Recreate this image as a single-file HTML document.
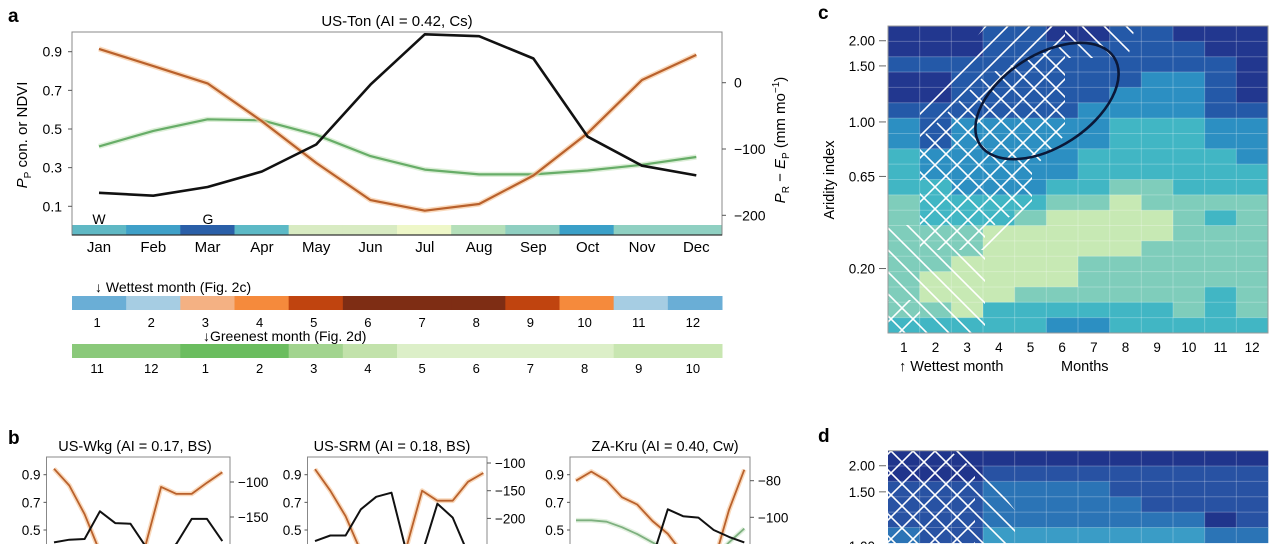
<!DOCTYPE html>
<html><head><meta charset="utf-8"><style>
html,body{margin:0;padding:0;background:#fff;width:1279px;height:544px;overflow:hidden;}
svg{display:block;font-family:"Liberation Sans",sans-serif;}
</style></head><body>
<svg id="fig" width="1279" height="544" viewBox="0 0 1279 544" xmlns="http://www.w3.org/2000/svg" overflow="hidden">
<defs>
<pattern id="hatchF" width="22" height="22" patternUnits="userSpaceOnUse"><line x1="0" y1="22" x2="22" y2="0" stroke="#fff" stroke-width="1.6"/><line x1="-11" y1="11" x2="11" y2="-11" stroke="#fff" stroke-width="1.6"/><line x1="11" y1="33" x2="33" y2="11" stroke="#fff" stroke-width="1.6"/></pattern>
<pattern id="hatchB" width="22" height="22" patternUnits="userSpaceOnUse"><line x1="0" y1="0" x2="22" y2="22" stroke="#fff" stroke-width="1.6"/><line x1="-11" y1="11" x2="11" y2="33" stroke="#fff" stroke-width="1.6"/><line x1="11" y1="-11" x2="33" y2="11" stroke="#fff" stroke-width="1.6"/></pattern>
</defs>
<g id="root"></g>
</svg>
<script>
// ---------- data ----------
const months = ['Jan','Feb','Mar','Apr','May','Jun','Jul','Aug','Sep','Oct','Nov','Dec'];
const aBlack = [0.17,0.155,0.2,0.28,0.42,0.73,0.99,0.98,0.865,0.46,0.31,0.26];
const aGreen = [0.41,0.49,0.55,0.545,0.47,0.36,0.29,0.265,0.265,0.285,0.315,0.355];
const aOrange = [51,25,-1,-58,-121,-177,-193,-183,-140,-76,4,42];
const aLeftTicks = [0.1,0.3,0.5,0.7,0.9];
const aRightTicks = [0,-100,-200];
const aStrip = ['#5fb8c4','#3fa0c8','#2a5fa8','#5cb9c6','#d8ebc2','#d8ebc2','#eef7c8','#b4dfb9','#8fcfc1','#3ba0c8','#8fd0c2','#8fd0c2'];
const wetLabels = ['1','2','3','4','5','6','7','8','9','10','11','12'];
const wetColors = ['#6aaed6','#a6cde3','#f4b183','#f58a3c','#c0440f','#7e2d14','#7e2d14','#7e2d14','#c0440f','#f58a3c','#a6cde3','#6aaed6'];
const greenLabels = ['11','12','1','2','3','4','5','6','7','8','9','10'];
const greenColors = ['#8ac97a','#8ac97a','#6bbd5f','#6bbd5f','#a2d48f','#c2e2ab','#dcefc8','#dcefc8','#dcefc8','#dcefc8','#c8e6b1','#c8e6b1'];

const b1Black = [0.41,0.43,0.435,0.635,0.55,0.545,0.38,0.3,0.4,0.58,0.58,0.42];
const b1Orange = [-81,-105,-146,-200,-240,-230,-189,-107,-117,-117,-101,-86];
const b2Black = [0.42,0.46,0.46,0.65,0.74,0.77,0.33,0.33,0.69,0.59,0.33,0.3];
const b2Orange = [-111,-150,-196,-260,-280,-270,-250,-150,-168,-168,-134,-118];
const b3Black = [0.2,0.2,0.22,0.25,0.28,0.3,0.65,0.6,0.59,0.5,0.45,0.41];
const b3Orange = [-80,-75,-80,-89,-93,-102,-109,-120,-125,-125,-96,-74];
const b3Green = [0.57,0.57,0.56,0.52,0.47,0.41,0.35,0.3,0.28,0.3,0.41,0.51];
const bLeftTicks = [0.5,0.7,0.9];
const b1RightTicks = [-100,-150];
const b2RightTicks = [-100,-150,-200];
const b3RightTicks = [-80,-100];

const heatPalette = ['#c7e9b4','#7fcdbb','#41b6c4','#2c8fc2','#2459a8','#22378f'];
const dPalette = ['#c7e9b4','#7fcdbb','#3a9cc6','#2b74b6','#2852a3','#20358c'];
const cGrid = [
[5,5,5,4,4,5,5,4,4,5,5,5],
[5,5,5,4,4,4,4,4,4,4,5,5],
[4,4,4,4,4,4,4,4,4,4,4,5],
[5,5,4,4,4,4,4,4,3,3,4,5],
[5,5,4,4,4,4,4,3,3,3,4,5],
[4,4,4,4,4,4,3,3,3,3,4,4],
[3,4,3,3,3,3,3,2,2,2,3,3],
[3,4,3,3,3,3,3,2,2,2,3,3],
[2,3,3,3,3,3,2,2,2,2,2,3],
[2,3,3,3,3,3,2,2,2,2,2,2],
[2,2,3,3,3,2,2,1,1,2,2,2],
[1,2,2,2,2,1,1,0,1,1,1,1],
[1,2,2,2,1,0,0,0,0,1,2,1],
[1,1,1,0,0,0,0,0,0,1,1,1],
[1,1,1,0,0,0,0,0,1,1,1,1],
[1,1,0,0,0,0,1,1,1,1,1,1],
[1,0,0,0,0,0,1,1,1,1,1,1],
[1,0,0,0,1,1,1,1,1,1,2,1],
[1,1,0,2,2,2,2,2,2,1,2,1],
[2,2,2,2,2,3,3,2,2,2,2,2]];
const cTickLabels = ['2.00','1.50','1.00','0.65','0.20'];
const cTickRows = [0.96,2.6,6.25,9.8,15.8];
const dGrid = [
[5,5,5,5,5,5,5,5,5,5,5,5],
[5,5,5,4,4,4,4,4,4,4,4,4],
[4,4,4,3,3,3,3,5,4,4,4,4],
[4,4,4,3,3,3,3,3,4,4,4,4],
[4,4,4,3,3,3,3,3,3,3,5,4],
[3,4,4,2,2,2,2,2,2,2,3,3]];
dGrid[2][7]=4;
const dTickLabels = ['2.00','1.50','1.00'];
const dTickRows = [0.98,2.68,6.2];

// ---------- helpers ----------
const NS='http://www.w3.org/2000/svg';
const root=document.getElementById('root');
function mk(tag,attrs,parent,text){const e=document.createElementNS(NS,tag);for(const k in attrs)e.setAttribute(k,attrs[k]);if(text!==undefined)e.textContent=text;(parent||root).appendChild(e);return e;}
function grp(name){const g=mk('g',{});return g;}
function lin(d0,d1,r0,r1){return v=>r0+(v-d0)*(r1-r0)/(d1-d0);}
function poly(vals,xs,ys,parent,color,w,glow,name){
  const pts=vals.map((v,i)=>xs(i).toFixed(1)+','+ys(v).toFixed(1)).join(' ');
  if(glow){const gl=mk('polyline',{points:pts,fill:'none',stroke:glow,'stroke-width':w+3,'stroke-linejoin':'round','stroke-opacity':0.7},parent);}
  const p=mk('polyline',{points:pts,fill:'none',stroke:color,'stroke-width':w,'stroke-linejoin':'round'},parent);
  
  
}

// ---------- panel a ----------
(function(){
  const g=grp('panel-a');
  const L=72,R=722,T=32,B=235;
  const mx=i=>99+i*54.3;
  const yl=lin(0.1,0.9,206.3,51.7);
  const yr=lin(0,-200,82.7,215.3);
  const lab=mk('text',{x:8,y:22,'font-size':19,'font-weight':'bold'},g,'a');
  const t=mk('text',{x:397,y:26,'font-size':15,'text-anchor':'middle'},g,'US-Ton (AI = 0.42, Cs)');
  const cw=(R-L)/12;
  aStrip.forEach((c,i)=>{const r=mk('rect',{x:L+i*cw,y:225,width:cw+0.5,height:10,fill:c},g);});
  const box=mk('rect',{x:L,y:T,width:R-L,height:B-T,fill:'none',stroke:'#888','stroke-width':1},g);
  mk('line',{x1:L,y1:B,x2:R,y2:B,stroke:'#333','stroke-width':1.2},g);
  aLeftTicks.forEach(v=>{const tx=mk('text',{x:62,y:yl(v)+5,'font-size':14,'text-anchor':'end'},g,v.toFixed(1));mk('line',{x1:L-4,y1:yl(v),x2:L,y2:yl(v),stroke:'#555'},g);});
  aRightTicks.forEach(v=>{const tx=mk('text',{x:734,y:yr(v)+5,'font-size':14},g,v===0?'0':'\u2212'+(-v));mk('line',{x1:R,y1:yr(v),x2:R+4,y2:yr(v),stroke:'#555'},g);});
  months.forEach((m,i)=>{const tx=mk('text',{x:mx(i),y:252,'font-size':15,'text-anchor':'middle'},g,m);});
  const w=mk('text',{x:99,y:224,'font-size':14,'text-anchor':'middle'},g,'W');
  const gg=mk('text',{x:208,y:224,'font-size':14,'text-anchor':'middle'},g,'G');
  poly(aGreen,mx,yl,g,'#67ad68',2.2,'#cfe8c8','ndvi-line');
  poly(aOrange,mx,yr,g,'#b9612c',2.2,'#f6c9a0','pr-ep-line');
  poly(aBlack,mx,yl,g,'#111',2.6,null,'pp-line');
  const ylab=mk('text',{transform:'translate(27,135) rotate(-90)','font-size':15,'text-anchor':'middle'},g);
  
  ylab.innerHTML='<tspan font-style="italic">P</tspan><tspan font-size="10" dy="4">P</tspan><tspan dy="-4"> con. or NDVI</tspan>';
  const rlab=mk('text',{transform:'translate(785,140) rotate(-90)','font-size':15,'text-anchor':'middle'},g);
  
  rlab.innerHTML='<tspan font-style="italic">P</tspan><tspan font-size="10" dy="4">R</tspan><tspan dy="-4"> \u2212 </tspan><tspan font-style="italic">E</tspan><tspan font-size="10" dy="4">P</tspan><tspan dy="-4"> (mm mo</tspan><tspan font-size="10" dy="-6">\u22121</tspan><tspan dy="6">)</tspan>';
  const t1=mk('text',{x:95,y:292,'font-size':14},g,'\u2193 Wettest month (Fig. 2c)');
  wetColors.forEach((c,i)=>{const r=mk('rect',{x:L+i*cw,y:296,width:cw+0.5,height:14,fill:c},g);
    const tx=mk('text',{x:L+(i+0.5)*cw-2,y:327,'font-size':13,'text-anchor':'middle'},g,wetLabels[i]);});
  const t2=mk('text',{x:203,y:341,'font-size':14},g,'\u2193Greenest month (Fig. 2d)');
  greenColors.forEach((c,i)=>{const r=mk('rect',{x:L+i*cw,y:344,width:cw+0.5,height:14,fill:c},g);
    const tx=mk('text',{x:L+(i+0.5)*cw-2,y:373,'font-size':13,'text-anchor':'middle'},g,greenLabels[i]);});
})();

// ---------- panel b ----------
(function(){
  const g=grp('panel-b');
  const lab=mk('text',{x:8,y:444,'font-size':19,'font-weight':'bold'},g,'b');
  const yl=lin(0.9,0.5,474.7,530);
  const subs=[
    {L:46.5,R:230,title:'US-Wkg (AI = 0.17, BS)',cx:135,x0:54,black:b1Black,orange:b1Orange,green:null,rt:b1RightTicks,yr:lin(-100,-150,482,517)},
    {L:307.5,R:487,title:'US-SRM (AI = 0.18, BS)',cx:392,x0:315,black:b2Black,orange:b2Orange,green:null,rt:b2RightTicks,yr:lin(-100,-150,463,490.7)},
    {L:570,R:750,title:'ZA-Kru (AI = 0.40, Cw)',cx:665,x0:576,black:b3Black,orange:b3Orange,green:b3Green,rt:b3RightTicks,yr:lin(-80,-100,480.7,517.3)}];
  subs.forEach((s,k)=>{
    const sg=mk('g',{},g);
    const cp=mk('clipPath',{id:'bclip'+k},sg);mk('rect',{x:s.L,y:457,width:s.R-s.L,height:87},cp);
    const t=mk('text',{x:s.cx,y:451,'font-size':14.5,'text-anchor':'middle'},sg,s.title);
    mk('path',{d:`M${s.L},544V457H${s.R}V544`,fill:'none',stroke:'#888'},sg);
    bLeftTicks.forEach(v=>{const tx=mk('text',{x:s.L-6,y:yl(v)+5,'font-size':13.5,'text-anchor':'end'},sg,v.toFixed(1));mk('line',{x1:s.L-3,y1:yl(v),x2:s.L,y2:yl(v),stroke:'#555'},sg);});
    s.rt.forEach(v=>{const tx=mk('text',{x:s.R+8,y:s.yr(v)+5,'font-size':13.5},sg,'\u2212'+(-v));mk('line',{x1:s.R,y1:s.yr(v),x2:s.R+4,y2:s.yr(v),stroke:'#555'},sg);});
    const pg=mk('g',{'clip-path':`url(#bclip${k})`},sg);
    const xs=i=>s.x0+i*15.3;
    if(s.green)poly(s.green,xs,yl,pg,'#7db07f',1.8,'#d6ead2','ndvi-line');
    poly(s.orange,xs,s.yr,pg,'#b9612c',1.8,'#f6c9a0','pr-ep-line');
    poly(s.black,xs,yl,pg,'#111',2,null,'pp-line');
  });
})();

// ---------- heatmaps ----------
function heat(name,grid,pal,top,tickL,tickR,labelChar,labelY){
  const g=grp(name);
  const L=888,R=1268,cw=(R-L)/12,rh=15.35;
  const lab=mk('text',{x:818,y:labelY,'font-size':19,'font-weight':'bold'},g,labelChar);
  grid.forEach((row,r)=>row.forEach((v,c)=>{const e=mk('rect',{x:L+c*cw,y:top+r*rh,width:cw+0.3,height:rh+0.3,fill:pal[v]},g);}));
  for(let c=1;c<12;c++)mk('line',{x1:L+c*cw,y1:top,x2:L+c*cw,y2:top+grid.length*rh,stroke:'#fff','stroke-opacity':0.25},g);
  for(let r=1;r<grid.length;r++)mk('line',{x1:L,y1:top+r*rh,x2:R,y2:top+r*rh,stroke:'#fff','stroke-opacity':0.25},g);
  tickL.forEach((t,i)=>{const y=top+tickR[i]*rh;const tx=mk('text',{x:875,y:y+5,'font-size':13.5,'text-anchor':'end'},g,t);mk('line',{x1:879,y1:y,x2:886,y2:y,stroke:'#666'},g);});
  return {g,L,R,cw,rh};
}
(function(){
  const h=heat('panel-c',cGrid,heatPalette,26,cTickLabels,cTickRows,'c',19);
  const g=h.g;
  const cpF=mk('clipPath',{id:'cF'},g);
  mk('polygon',{points:'920,112 985,26 1065,26 1065,135 1032,170 1032,205 985,250 920,250'},cpF);
  mk('rect',{x:888,y:300,width:32,height:33},cpF);
  const cpB=mk('clipPath',{id:'cB'},g);
  mk('polygon',{points:'920,140 985,75 1065,45 1065,135 1032,170 1032,205 985,230 985,333 888,333 888,225 920,225'},cpB);
  mk('polygon',{points:'1065,26 1135,26 1128,58 1065,58'},cpB);
  const hf=mk('rect',{x:888,y:26,width:380,height:307,fill:'url(#hatchF)','clip-path':'url(#cF)'},g);
  const hb=mk('rect',{x:888,y:26,width:380,height:307,fill:'url(#hatchB)','clip-path':'url(#cB)'},g);
  mk('rect',{x:888,y:26,width:380,height:307,fill:'none',stroke:'#999'},g);
  const el=mk('ellipse',{cx:1047,cy:101,rx:80,ry:46,transform:'rotate(-33 1047 101)',fill:'none',stroke:'#0b1838','stroke-width':2.6},g);
  for(let c=0;c<12;c++){const tx=mk('text',{x:h.L+(c+0.5)*h.cw,y:352,'font-size':13.5,'text-anchor':'middle'},g,String(c+1));}
  const a=mk('text',{x:899,y:371,'font-size':14.5},g,'\u2191 Wettest month');
  const m=mk('text',{x:1061,y:371,'font-size':14.5},g,'Months');
  const y=mk('text',{transform:'translate(834,180) rotate(-90)','font-size':14.5,'text-anchor':'middle'},g,'Aridity index');
})();
(function(){
  const h=heat('panel-d',dGrid,dPalette,450.7,dTickLabels,dTickRows,'d',442);
  const g=h.g;
  const cpF=mk('clipPath',{id:'dF'},g);
  mk('polygon',{points:'888,450.7 950,450.7 975,470 975,544 888,544'},cpF);
  const cpB=mk('clipPath',{id:'dB'},g);
  mk('polygon',{points:'888,450.7 968,450.7 1015,510 1015,544 888,544'},cpB);
  const hf=mk('rect',{x:888,y:450.7,width:130,height:94,fill:'url(#hatchF)','clip-path':'url(#dF)'},g);
  const hb=mk('rect',{x:888,y:450.7,width:130,height:94,fill:'url(#hatchB)','clip-path':'url(#dB)'},g);
  mk('line',{x1:888,y1:450.7,x2:1268,y2:450.7,stroke:'#999'},g);
})();
</script>
</body></html>
